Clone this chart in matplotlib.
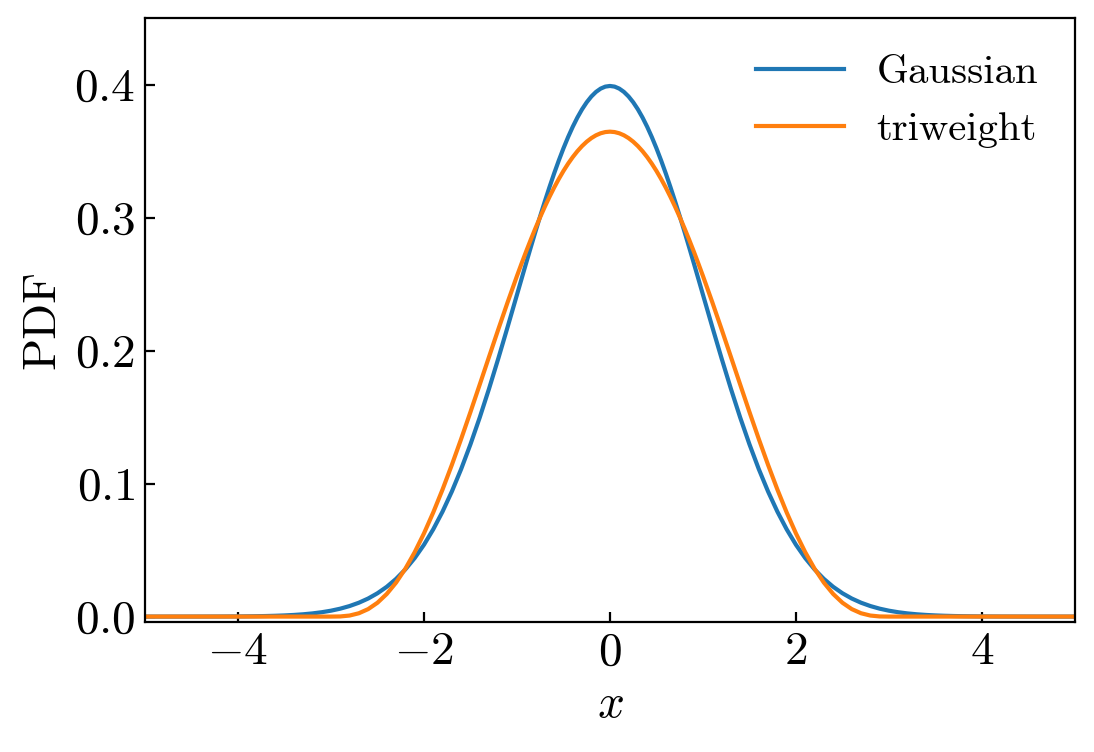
import numpy as np
import matplotlib
matplotlib.use('Agg')
import matplotlib.pyplot as plt

# x grid for the right half; the curves are symmetric about 0
# (finer near the peak, 0.05 up to x = 1, then 0.1 up to x = 5)
x_half = np.round(np.concatenate([np.arange(0, 20) * 0.05, 1.0 + np.arange(0, 41) * 0.1]), 2)

gauss_half = [
    0.39894, 0.39845, 0.39695, 0.39448, 0.39104, 0.38667, 0.38139, 0.37524,
    0.36827, 0.36053, 0.35207, 0.34294, 0.33322, 0.32297, 0.31225, 0.30114,
    0.28969, 0.27799, 0.26609, 0.25406,
    0.24197, 0.21785, 0.19419, 0.17137, 0.14973, 0.12952,
    0.11092, 0.09405, 0.07895, 0.06562, 0.05399, 0.04398, 0.03547, 0.02833,
    0.02239, 0.01753, 0.01358, 0.01042, 0.00792, 0.00595, 0.00443, 0.00327,
    0.00238, 0.00172, 0.00123, 0.00087, 0.00061, 0.00042, 0.00029, 0.00020,
    0.00013, 0.00009, 0.00006, 0.00004, 0.00003, 0.00002, 0.00001, 0.00001,
    0.00000, 0.00000, 0.00000,
]
triweight_half = [
    0.36458, 0.36428, 0.36337, 0.36186, 0.35974, 0.35704, 0.35376, 0.34990,
    0.34548, 0.34052, 0.33504, 0.32904, 0.32256, 0.31561, 0.30822, 0.30041,
    0.29221, 0.28364, 0.27474, 0.26554,
    0.25606, 0.23642, 0.21609, 0.19535, 0.17450, 0.15381,
    0.13358, 0.11408, 0.09557, 0.07831, 0.06251, 0.04836, 0.03600, 0.02554,
    0.01701, 0.01040, 0.00562, 0.00250, 0.00078, 0.00010, 0.00000, 0.00000,
    0.00000, 0.00000, 0.00000, 0.00000, 0.00000, 0.00000, 0.00000, 0.00000,
    0.00000, 0.00000, 0.00000, 0.00000, 0.00000, 0.00000, 0.00000, 0.00000,
    0.00000, 0.00000, 0.00000,
]

labels = ['Gaussian', 'triweight']

# mirror to the full range -5 .. 5
x = np.concatenate([-x_half[::-1], x_half[1:]])
gauss = np.concatenate([np.array(gauss_half)[::-1], gauss_half[1:]])
triweight = np.concatenate([np.array(triweight_half)[::-1], triweight_half[1:]])

plt.rcParams['font.family'] = 'serif'
plt.rcParams['font.serif'] = ['cmr10']
plt.rcParams['mathtext.fontset'] = 'cm'
plt.rcParams['axes.formatter.use_mathtext'] = True
plt.rcParams['font.size'] = 17
plt.rcParams['xtick.direction'] = 'in'
plt.rcParams['ytick.direction'] = 'in'

fig, ax = plt.subplots(figsize=(5.47, 3.76), dpi=200)
fig.subplots_adjust(left=0.1325, right=0.9826, top=0.976, bottom=0.173)

ax.plot(x, gauss, color='tab:blue', lw=1.5, label=labels[0])
ax.plot(x, triweight, color='tab:orange', lw=1.5, label=labels[1])

ax.set_xlim(-5, 5)
ax.set_ylim(-0.004, 0.45)
ax.set_xticks([-4, -2, 0, 2, 4])
ax.set_yticks([0.0, 0.1, 0.2, 0.3, 0.4])
ax.set_xlabel('$x$')
ax.set_ylabel('PDF')
ax.legend(frameon=False, loc='upper right', fontsize=14.7, handlelength=2.15)

fig.savefig('out.png', dpi=200)
